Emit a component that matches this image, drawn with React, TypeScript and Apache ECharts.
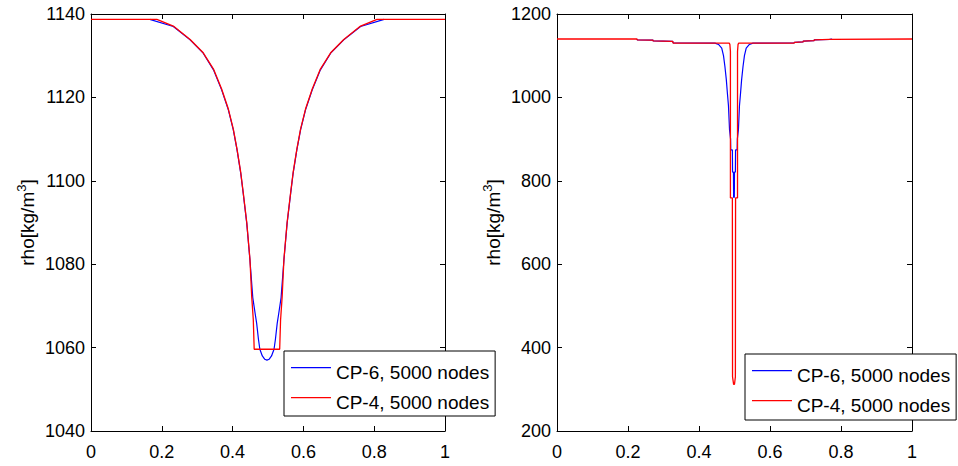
import React, { useEffect, useRef } from "react";
import * as echarts from "echarts";

const seriesNames = ["CP-6, 5000 nodes", "CP-4, 5000 nodes"];
const yAxisName = "rho[kg/m{sup|3}]";

const xRange = [0, 1];
const leftYRange = [1040, 1140];
const rightYRange = [200, 1200];

// Left plot: CP-6 (blue)
const leftCP6: number[][] = [
  [0.166, 1138.7], [0.2325, 1137.0], [0.28, 1133.8], [0.317, 1130.6], [0.346, 1126.6],
  [0.369, 1121.8], [0.388, 1117.0], [0.402, 1112.2], [0.4125, 1107.4], [0.423, 1101.8],
  [0.43, 1097.0], [0.44, 1089.8], [0.449, 1081.0], [0.457, 1072], [0.464, 1068],
  [0.468, 1065.8], [0.473, 1062], [0.477, 1059.6], [0.484, 1058], [0.491, 1057.2],
  [0.497, 1057], [0.503, 1057.2], [0.51, 1058], [0.517, 1059.6], [0.521, 1062],
  [0.526, 1065.8], [0.53, 1068], [0.537, 1072], [0.545, 1081], [0.554, 1089.8],
  [0.564, 1097], [0.571, 1101.8], [0.5815, 1107.4], [0.592, 1112.2], [0.606, 1117],
  [0.625, 1121.8], [0.648, 1126.6], [0.677, 1130.6], [0.714, 1133.8], [0.7615, 1137],
  [0.828, 1138.7],
];

// Left plot: CP-4 (red)
const leftCP4: number[][] = [
  [0, 1138.7], [0.186, 1138.7], [0.2325, 1137.1], [0.28, 1133.9], [0.317, 1130.7],
  [0.346, 1126.8], [0.369, 1122], [0.388, 1117.2], [0.402, 1112.4], [0.4125, 1107.6],
  [0.423, 1102], [0.43, 1097.2], [0.44, 1090], [0.449, 1081.2], [0.454, 1072.2],
  [0.4585, 1066.6], [0.461, 1059.6], [0.533, 1059.6], [0.5355, 1066.6], [0.54, 1072.2],
  [0.545, 1081.2], [0.554, 1090], [0.564, 1097.2], [0.571, 1102], [0.5815, 1107.6],
  [0.592, 1112.4], [0.606, 1117.2], [0.625, 1122], [0.648, 1126.8], [0.677, 1130.7],
  [0.714, 1133.9], [0.7615, 1137.1], [0.808, 1138.7], [1, 1138.7],
];

// Right plot: CP-6 (blue)
const rightCP6: number[][] = [
  [0.225, 1140], [0.226, 1138], [0.27, 1137.5], [0.271, 1135.5], [0.326, 1134.5],
  [0.327, 1130.5], [0.445, 1130], [0.455, 1127], [0.464, 1118], [0.469, 1100],
  [0.473, 1074], [0.477, 1042], [0.48, 1010], [0.483, 980], [0.486, 922],
  [0.489, 900], [0.4895, 874], [0.494, 874], [0.4945, 821], [0.497, 821],
  [0.4975, 762], [0.4985, 759], [0.4995, 762], [0.5, 821], [0.5025, 821],
  [0.503, 874], [0.5075, 874], [0.508, 900], [0.511, 922], [0.514, 980],
  [0.517, 1010], [0.52, 1042], [0.524, 1074], [0.528, 1100], [0.533, 1118],
  [0.542, 1127], [0.552, 1130], [0.668, 1130.5], [0.669, 1132], [0.693, 1133],
  [0.694, 1135], [0.724, 1136], [0.725, 1138], [0.768, 1139], [0.769, 1140],
  [0.775, 1140],
];

// Right plot: CP-4 (red)
const rightCP4: number[][] = [
  [0, 1140], [0.225, 1140], [0.226, 1138], [0.27, 1137.5], [0.271, 1135.5],
  [0.326, 1134.5], [0.327, 1130.5], [0.485, 1130], [0.487, 1127], [0.4885, 1110],
  [0.4885, 759], [0.494, 759], [0.4945, 330], [0.4975, 312], [0.5, 312],
  [0.5025, 330], [0.503, 759], [0.5085, 759], [0.5085, 1110], [0.51, 1127],
  [0.512, 1130], [0.668, 1130.5], [0.669, 1132], [0.693, 1133], [0.694, 1135],
  [0.724, 1136], [0.725, 1138], [0.768, 1139], [0.769, 1140], [1, 1140],
];

const FONT = "Liberation Sans, Arial, Helvetica, sans-serif";
const BLUE = "#0000ff";
const RED = "#ff0000";

export default function App() {
  const ref = useRef<HTMLDivElement>(null);

  useEffect(() => {
    document.body.style.margin = "0";
    if (!ref.current) return;
    const chart = echarts.init(ref.current, undefined, { renderer: "svg" });

    const axisLine = { show: true, onZero: false, lineStyle: { color: "#000", width: 1 } };
    const tick = { show: true, inside: true, length: 5, lineStyle: { color: "#000", width: 1 } };
    const labelStyle = { color: "#000", fontSize: 18, fontFamily: FONT };

    const xAxisPair = (gi: number) => [
      {
        type: "value", gridIndex: gi, position: "bottom", min: xRange[0], max: xRange[1], interval: 0.2,
        axisLine, axisTick: tick, splitLine: { show: false },
        axisLabel: { ...labelStyle, margin: 12, formatter: (v: number) => String(+v.toFixed(1)) },
      },
      {
        type: "value", gridIndex: gi, position: "top", min: xRange[0], max: xRange[1], interval: 0.2,
        axisLine, axisTick: tick, splitLine: { show: false }, axisLabel: { show: false },
      },
    ];
    const yAxisPair = (gi: number, range: number[], interval: number, gap: number) => [
      {
        type: "value", gridIndex: gi, position: "left", min: range[0], max: range[1], interval,
        axisLine, axisTick: tick, splitLine: { show: false },
        axisLabel: { ...labelStyle, margin: 6, formatter: (v: number) => String(v) },
        name: yAxisName, nameLocation: "middle", nameGap: gap, nameRotate: 90,
        nameTextStyle: {
          color: "#000", fontSize: 19, fontFamily: FONT, lineHeight: 24,
          rich: { sup: { fontSize: 13, fontFamily: FONT, color: "#000", verticalAlign: "top", lineHeight: 13 } },
        },
      },
      {
        type: "value", gridIndex: gi, position: "right", min: range[0], max: range[1], interval,
        axisLine, axisTick: tick, splitLine: { show: false }, axisLabel: { show: false },
      },
    ];

    const lineSeries = (name: string, data: number[][], color: string, xi: number, yi: number, w: number) => ({
      type: "line", name, data, xAxisIndex: xi, yAxisIndex: yi,
      showSymbol: false, symbol: "none",
      lineStyle: { color, width: w }, itemStyle: { color },
      emphasis: { disabled: true }, silent: true,
    });

    const legendBase = {
      orient: "vertical", data: seriesNames, selectedMode: false,
      borderColor: "#000", borderWidth: 1, backgroundColor: "#fff", borderRadius: 0,
      icon: "path://M0,0H40V1.3H0Z M0,10H0.01V10.01H0Z", itemWidth: 40, itemHeight: 10, itemGap: 8,
      textStyle: { color: "#000", fontSize: 19, fontFamily: FONT, lineHeight: 22 },
    };

    chart.setOption({
      animation: false,
      backgroundColor: "#fff",
      grid: [
        { left: 91, right: 513, top: 14, bottom: 35, containLabel: false },
        { left: 557, right: 46, top: 14, bottom: 35, containLabel: false },
      ],
      xAxis: [...xAxisPair(0), ...xAxisPair(1)],
      yAxis: [...yAxisPair(0, leftYRange, 20, 52), ...yAxisPair(1, rightYRange, 200, 52)],
      legend: [
        { ...legendBase, left: 284, top: 351, padding: [10, 6, 3, 7] },
        { ...legendBase, left: 745, top: 354, padding: [10, 6, 4, 7] },
      ],
      series: [
        lineSeries(seriesNames[0], leftCP6, BLUE, 0, 0, 1.2),
        lineSeries(seriesNames[1], leftCP4, RED, 0, 0, 1.3),
        lineSeries(seriesNames[0], rightCP6, BLUE, 2, 2, 1.2),
        lineSeries(seriesNames[1], rightCP4, RED, 2, 2, 1.3),
      ],
    });

    return () => chart.dispose();
  }, []);

  return <div ref={ref} style={{ width: 958, height: 466 }} />;
}
